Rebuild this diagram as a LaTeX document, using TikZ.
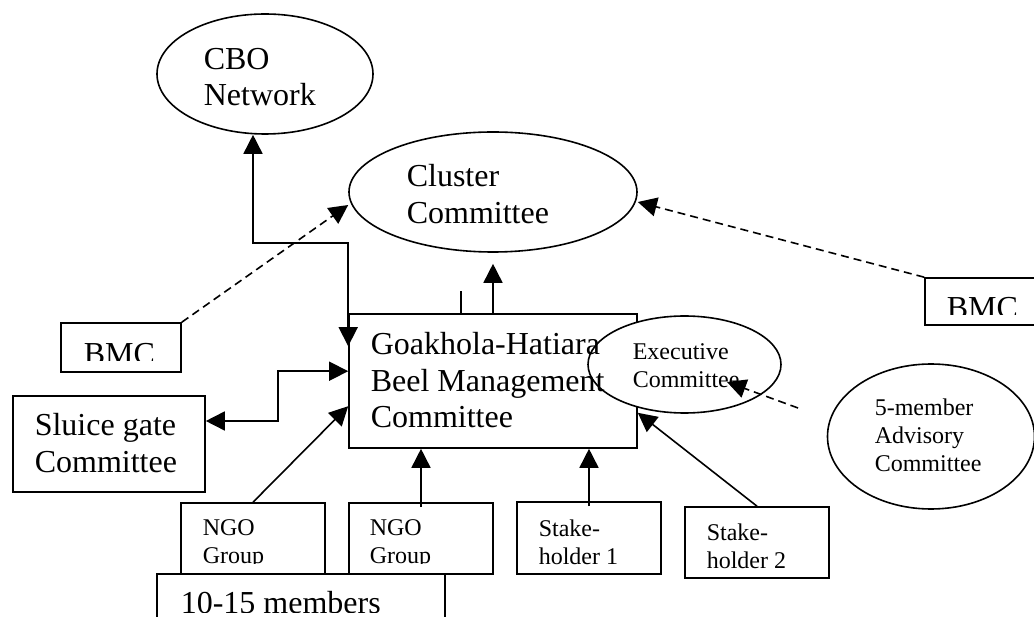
\documentclass[tikz,border=0pt]{standalone}
\usepackage{fontspec}
\setmainfont{Liberation Serif}
\usetikzlibrary{shapes.geometric,arrows.meta,calc}
\newcommand{\bigtxt}{\fontsize{32}{36.5}\selectfont}
\newcommand{\smtxt}{\fontsize{24}{28}\selectfont}
\newcommand{\mlines}[1]{\begin{tabular}[t]{@{}l@{}}#1\end{tabular}}
\begin{document}
\begin{tikzpicture}[x=1pt,y=-1pt,line width=1.6pt,
  box/.style={draw,rectangle,inner sep=0pt,line width=1.6pt},
  ell/.style={draw,ellipse,inner sep=0pt,line width=1.6pt},
  lbl/.style={anchor=base west,inner sep=0pt,align=left},
  arr/.style={-{Triangle[length=19pt,width=19pt]}},
  darr/.style={{Triangle[length=19pt,width=19pt]}-{Triangle[length=19pt,width=19pt]}},
  dashline/.style={dash pattern=on 8pt off 5pt}]
\clip (0,0) rectangle (1034,617);
% ellipses at top
\node[ell,minimum width=216pt,minimum height=120pt] (cbo) at (265,74) {};
\node[lbl,font=\bigtxt] (cbot) at (203,69.5) {\mlines{CBO\\Network}};
\node[ell,minimum width=288pt,minimum height=120pt] (cl) at (493,192) {};
\node[lbl,font=\bigtxt] (clt) at (406,187) {\mlines{Cluster\\Committee}};
% main box
\node[box,minimum width=288pt,minimum height=134pt] (gb) at (493,381) {};
\node[ell,fill=white,minimum width=193pt,minimum height=97pt] (ex) at (684.5,364.5) {};
\node[lbl,font=\bigtxt] (gbt) at (370,355) {\mlines{Goakhola-Hatiara\\Beel Management\\Committee}};
\node[lbl,font=\smtxt] (ext) at (632,360) {\mlines{Executive\\Committee}};
% sluice gate
\node[box,minimum width=192pt,minimum height=96pt] (sl) at (109,444) {};
\node[lbl,font=\bigtxt] (slt) at (34,436) {\mlines{Sluice gate\\Committee}};
% BMC boxes
\node[box,minimum width=120pt,minimum height=49pt] (bmcl) at (121,347.5) {};
\begin{scope}
  \clip (61,323) rectangle (181,361);
  \node[lbl,font=\bigtxt] (bmclt) at (83,365) {BMC};
\end{scope}
\node[box,minimum width=135pt,minimum height=47pt] (bmcr) at (992.5,301.5) {};
\begin{scope}
  \clip (925,278) rectangle (1034,315);
  \node[lbl,font=\bigtxt] (bmcrt) at (946,319) {BMC};
\end{scope}
% advisory
\node[ell,minimum width=207pt,minimum height=145pt] (adv) at (931,436.5) {};
\node[lbl,font=\smtxt] (advt) at (874,416) {\mlines{5-member\\Advisory\\Committee}};
% bottom boxes
\node[box,minimum width=144pt,minimum height=71pt] (ngo1) at (253,538.5) {};
\node[box,minimum width=144pt,minimum height=71pt] (ngo2) at (421,538.5) {};
\begin{scope}
  \clip (181,503) rectangle (493,563);
  \node[lbl,font=\smtxt] (ngo1t) at (202,535.5) {\mlines{NGO\\Group}};
  \node[lbl,font=\smtxt] (ngo2t) at (369,535.5) {\mlines{NGO\\Group}};
\end{scope}
\node[box,minimum width=288pt,minimum height=76pt] (mem) at (301,612) {};
\begin{scope}
  \clip (157,574) rectangle (445,612);
  \node[lbl,font=\bigtxt] (memt) at (180,613.5) {10-15 members};
\end{scope}
\node[box,minimum width=144pt,minimum height=72pt] (st1) at (589,538) {};
\node[lbl,font=\smtxt] (st1t) at (538,536.5) {\mlines{Stake-\\holder 1}};
\node[box,minimum width=144pt,minimum height=71pt] (st2) at (757,542.5) {};
\node[lbl,font=\smtxt] (st2t) at (706,540.5) {\mlines{Stake-\\holder 2}};
% connectors
\draw[darr] ($(cbo.south)+(-12,0)$) -- ++(0,108) -| ($(gb.north west)+(0,33)$);
\draw ($(gb.north)+(-32,0)$) -- ++(0,-22);
\draw[arr] (gb.north) -- ($(cl.south)+(0,11)$);
\draw[arr,dashline] (bmcl.north east) -- ($(cl.west)+(0,13)$);
\draw[arr,dashline] (bmcr.north west) -- ($(cl.east)+(0,10)$);
\draw[darr] ($(sl.east)+(0,-23)$) -- ++(72,0) |- ($(gb.north west)+(0,58)$);
\draw[arr] (ngo1.north) -- ($(gb.north west)+(0,93)$);
\draw[arr] ($(ngo2.north)+(0,5)$) -- (ngo2.north |- gb.south);
\draw[arr] ($(st1.north)+(0,5)$) -- (st1.north |- gb.south);
\draw[arr] (st2.north) -- ($(gb.south east)+(0,-36)$);
\coordinate (advs) at (798,408);
\draw[arr,dashline] (advs) -- ($(ex.center)+(42.5,17.5)$);
\end{tikzpicture}
\end{document}
